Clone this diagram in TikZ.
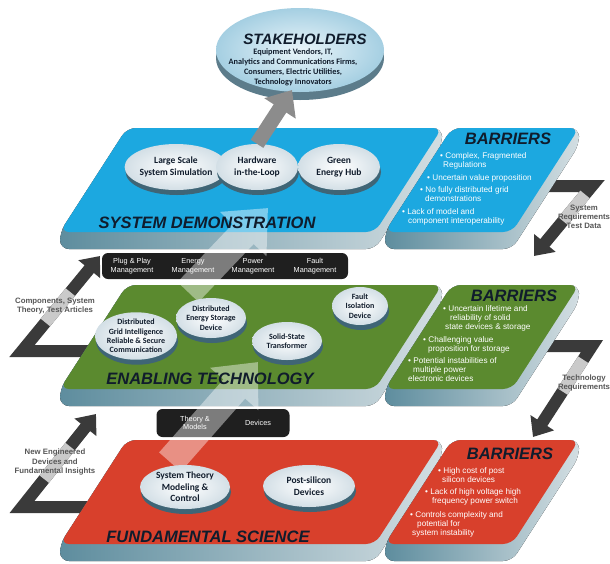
\documentclass[tikz,border=0pt]{standalone}
\usepackage{fontspec}
\setmainfont{Liberation Sans}
\newfontfamily\condfont{Carlito}
\usetikzlibrary{arrows.meta,shapes.geometric,calc}
\definecolor{Ink}{HTML}{101C2C}
\definecolor{SdBlue}{HTML}{1CA8E0}
\definecolor{EtGreen}{HTML}{5B8A2F}
\definecolor{FsRed}{HTML}{D8402C}
\definecolor{SlabDark}{HTML}{5E8D9E}
\definecolor{SlabLight}{HTML}{D3DEE2}
\definecolor{DiscEdge}{HTML}{D3DFE6}
\definecolor{DiscShade}{HTML}{3F6576}
\definecolor{LinkDark}{HTML}{3A3A3A}
\definecolor{LinkLight}{HTML}{CACACA}
\definecolor{StakeMid}{HTML}{EAF5FA}
\definecolor{StakeEdge}{HTML}{A5CFE2}
\tikzset{
 slab/.style={left color=SlabDark,right color=SlabLight,rounded corners=9pt},
 topface/.style={rounded corners=9pt},
 disc/.style={ellipse,inner sep=0pt,align=center,inner color=white,outer color=DiscEdge,text=Ink,
   preaction={fill=DiscShade,transform canvas={xshift=1pt,yshift=-5pt}}},
 discbig/.style={disc,font=\condfont\fontsize{9.5}{11.5}\selectfont\bfseries},
 discsmall/.style={disc,font=\condfont\fontsize{8}{9.3}\selectfont\bfseries},
 lvltitle/.style={font=\fontsize{16.5}{18}\selectfont\bfseries\itshape,text=Ink,inner sep=0pt},
 barrier/.style={text=white,font=\fontsize{8.2}{9.4}\selectfont,align=left,anchor=north west,inner sep=0pt},
 mgmt/.style={text=white,font=\fontsize{7.3}{8.6}\selectfont,align=center,inner sep=0pt},
 linktag/.style={text=LinkDark!85,font=\fontsize{7.8}{9.3}\selectfont\bfseries,align=center,inner sep=0pt},
 zlink/.style={draw=LinkDark,line width=12pt,-{Triangle[width=27pt,length=17pt]}},
 zfade/.style={draw=LinkLight,line width=12pt},
 lift/.style={draw=white,line width=29pt,-{Triangle[width=62pt,length=36pt]}},
 upflow/.style={draw=gray!90,line width=15pt,-{Triangle[width=36pt,length=22pt]}},
 blackbar/.style={fill=black,fill opacity=.88,rounded corners=6pt,inner sep=0pt}
}
\begin{document}
\begin{tikzpicture}[x=1pt,y=-1pt]
\fill[white] (0,0) rectangle (610,563);
\useasboundingbox (0,0) rectangle (610,563);

\coordinate (cp0) at (92,351); \coordinate (cp1) at (22,351); \coordinate (cp2) at (100,256);
\coordinate (ne0) at (92,507); \coordinate (ne1) at (22,507); \coordinate (ne2) at (96,414);
\coordinate (sr0) at (540,186); \coordinate (sr1) at (592,186); \coordinate (sr2) at (534,256);
\coordinate (tr0) at (540,346); \coordinate (tr1) at (592,346); \coordinate (tr2) at (533,437);
\draw[zlink] (cp0) -- (cp1) -- (cp2);
\draw[zfade] ($(cp1)!.3!(cp2)$) -- ($(cp1)!.62!(cp2)$);
\draw[zlink] (ne0) -- (ne1) -- (ne2);
\draw[zfade] ($(ne1)!.3!(ne2)$) -- ($(ne1)!.65!(ne2)$);
\draw[zlink] (sr0) -- (sr1) -- (sr2);
\draw[zfade] ($(sr1)!.12!(sr2)$) -- ($(sr1)!.5!(sr2)$);
\draw[zlink] (tr0) -- (tr1) -- (tr2);
\draw[zfade] ($(tr1)!.15!(tr2)$) -- ($(tr1)!.5!(tr2)$);

\foreach \yt/\col in {128/SdBlue,285/EtGreen,440/FsRed}{
  \foreach \xl/\xr in {60/375,385/512}{
    \fill[slab] (\xl+67,\yt) -- (\xr+67,\yt) -- (\xr+67,\yt+17) -- (\xr,\yt+121) -- (\xl,\yt+121) -- (\xl,\yt+104) -- cycle;
    \fill[topface,fill=\col] (\xl+67,\yt) -- (\xr+67,\yt) -- (\xr,\yt+104) -- (\xl,\yt+104) -- cycle;
  }
}

\node[blackbar,minimum width=246pt,minimum height=26pt] (mgmtbar) at (225,266) {};
\node[mgmt] (pnp) at (132,266) {Plug \& Play\\Management};
\node[mgmt] (enm) at (193,266) {Energy\\Management};
\node[mgmt] (pwm) at (253,266) {Power\\Management};
\node[mgmt] (ftm) at (315,266) {Fault\\Management};
\node[blackbar,minimum width=133pt,minimum height=28pt] (basebar) at (223,423) {};
\node[mgmt] (thm) at (195,423) {Theory \&\\Models};
\node[mgmt] (dvc) at (258,423) {Devices};

\coordinate (lift1a) at (188,292); \coordinate (lift1b) at (268,208);
\coordinate (lift2a) at (170,462); \coordinate (lift2b) at (258,362);
\begin{scope}[transparency group,opacity=.42]
\draw[lift] (lift1a) -- (lift1b);
\draw[lift] (lift2a) -- (lift2b);
\end{scope}

\node[discbig,minimum width=82pt,minimum height=46pt] (lss) at (176,167) {Large Scale\\System Simulation};
\node[discbig,minimum width=82pt,minimum height=46pt] (hil) at (257,167) {Hardware\\in-the-Loop};
\node[discbig,minimum width=82pt,minimum height=46pt] (geh) at (339,167) {Green\\Energy Hub};
\node[lvltitle] (sdtitle) at (207,223) {SYSTEM DEMONSTRATION};
\node[lvltitle] (sdbar) at (508,139) {BARRIERS};
\node[barrier] (sd1) at (440,152) {\textbullet\ Complex, Fragmented\\\hspace*{3pt}Regulations};
\node[barrier] (sd2) at (427,174) {\textbullet\ Uncertain value proposition};
\node[barrier] (sd3) at (420,186) {\textbullet\ No fully distributed grid\\\hspace*{5pt}demonstrations};
\node[barrier] (sd4) at (402,208) {\textbullet\ Lack of model and\\\hspace*{6pt}component interoperability};

\node[discsmall,minimum width=74pt,minimum height=44pt] (dgi) at (136,336) {Distributed\\Grid Intelligence\\Reliable \& Secure\\Communication};
\node[discsmall,minimum width=68pt,minimum height=40pt] (des) at (211,318) {Distributed\\Energy Storage\\Device};
\node[discsmall,minimum width=70pt,minimum height=38pt] (sst) at (287,341) {Solid-State\\Transformer};
\node[discsmall,minimum width=56pt,minimum height=38pt] (fid) at (360,306) {Fault\\Isolation\\Device};
\node[lvltitle] (ettitle) at (210,379) {ENABLING TECHNOLOGY};
\node[lvltitle] (etbar) at (514,296) {BARRIERS};
\node[barrier] (et1) at (443,305) {\textbullet\ Uncertain lifetime and\\\hspace*{7pt}reliability of solid\\\hspace*{2pt}state devices \& storage};
\node[barrier] (et2) at (423,336) {\textbullet\ Challenging value\\\hspace*{5pt}proposition for storage};
\node[barrier] (et3) at (408,357) {\textbullet\ Potential instabilities of\\\hspace*{5pt}multiple power\\electronic devices};

\node[discbig,minimum width=90pt,minimum height=44pt] (stm) at (185,487) {System Theory\\Modeling \&\\Control};
\node[discbig,minimum width=92pt,minimum height=42pt] (psd) at (309,486) {Post-silicon\\Devices};
\node[lvltitle] (fstitle) at (208,537) {FUNDAMENTAL SCIENCE};
\node[lvltitle] (fsbar) at (510,454) {BARRIERS};
\node[barrier] (fs1) at (438,467) {\textbullet\ High cost of post\\\hspace*{4pt}silicon devices};
\node[barrier] (fs2) at (425,488) {\textbullet\ Lack of high voltage high\\\hspace*{7pt}frequency power switch};
\node[barrier] (fs3) at (410,511) {\textbullet\ Controls complexity and\\\hspace*{7pt}potential for\\\hspace*{2pt}system instability};

\node[ellipse,minimum width=168pt,minimum height=84pt,inner color=StakeMid,outer color=StakeEdge,
  preaction={fill=DiscShade!85,transform canvas={yshift=-8pt}}] (stake) at (300,50) {};
\node[lvltitle,font=\fontsize{15}{17}\selectfont\bfseries\itshape] (staketitle) at (305,39) {STAKEHOLDERS};
\node[font=\condfont\fontsize{8.3}{10}\selectfont\bfseries,text=Ink,align=center,inner sep=0pt] (stakelist) at (293,67)
  {Equipment Vendors, IT,\\Analytics and Communications Firms,\\Consumers, Electric Utilities,\\Technology Innovators};
\coordinate (stakein) at (292,90);
\draw[upflow] (hil.north) -- (stakein);

\node[linktag] (sysreq) at (584,217) {System\\Requirements\\Test Data};
\node[linktag] (techreq) at (584,383) {Technology\\Requirements};
\node[linktag] (compo) at (55,306) {Components, System\\Theory, Test Articles};
\node[linktag] (newdev) at (55,462) {New Engineered\\Devices and\\Fundamental Insights};
\end{tikzpicture}
\end{document}
